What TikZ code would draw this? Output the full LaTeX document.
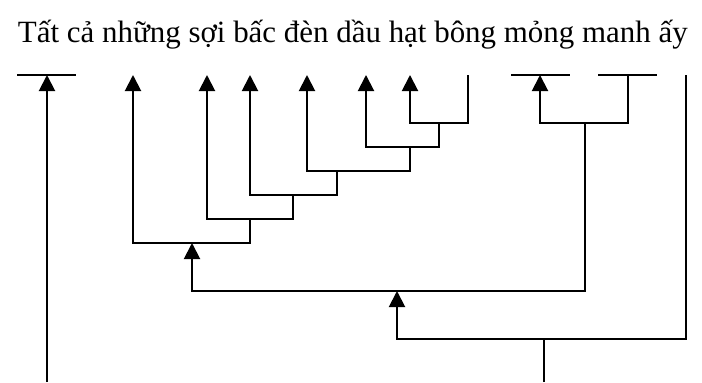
\documentclass[tikz,border=0pt]{standalone}
\usepackage{fontspec}
\setmainfont{Liberation Serif}
\usetikzlibrary{arrows.meta}

\tikzset{
  uparrow/.style={-{Triangle[length=0.4cm,width=0.4cm]}},
  wordbar/.style={line width=1.4pt}
}

\begin{document}
\begin{tikzpicture}[x=0.025cm,y=-0.025cm,line width=1.4pt]
  \useasboundingbox (0,0) rectangle (702,382);
  \node[anchor=base west,inner sep=0pt,font=\fontsize{22}{26}\selectfont] (sentence)
        at (17,42) {Tất cả những sợi bấc đèn dầu hạt bông mỏng manh ấy};
  % word ends on the top row
  \foreach \n/\x in {w1/47,w2/133,w3/207,w4/250,w5/307,w6/366,
                     w7/410,w8/468,w9/540,w10/628,w11/686}
    \coordinate (\n) at (\x,75);
  \draw[wordbar] (17,75) -- (76,75);
  \draw[wordbar] (511,75) -- (570,75);
  \draw[wordbar] (598,75) -- (657,75);
  % branching points
  \coordinate (j1) at (439,123);
  \coordinate (j2) at (410,147);
  \coordinate (j3) at (337,171);
  \coordinate (j4) at (293,195);
  \coordinate (j5) at (250,219);
  \coordinate (j6) at (192,243);
  \coordinate (j7) at (585,123);
  \coordinate (j8) at (397,291);
  \coordinate (j9) at (544,339);
  \coordinate (root) at (544,382);
  \coordinate (left) at (47,382);
  \draw[uparrow] (j1) -| (w7);  \draw (j1) -| (w8);
  \draw[uparrow] (j2) -| (w6);  \draw (j2) -| (j1);
  \draw[uparrow] (j3) -| (w5);  \draw (j3) -| (j2);
  \draw[uparrow] (j4) -| (w4);  \draw (j4) -| (j3);
  \draw[uparrow] (j5) -| (w3);  \draw (j5) -| (j4);
  \draw[uparrow] (j6) -| (w2);  \draw (j6) -| (j5);
  \draw[uparrow] (j7) -| (w9);  \draw (j7) -| (w10);
  \draw[uparrow] (j8) -| (j6);  \draw (j8) -| (j7);
  \draw[uparrow] (j9) -| (j8);  \draw (j9) -| (w11);
  \draw (root) -- (j9);
  \draw[uparrow] (left) -- (w1);
\end{tikzpicture}
\end{document}
